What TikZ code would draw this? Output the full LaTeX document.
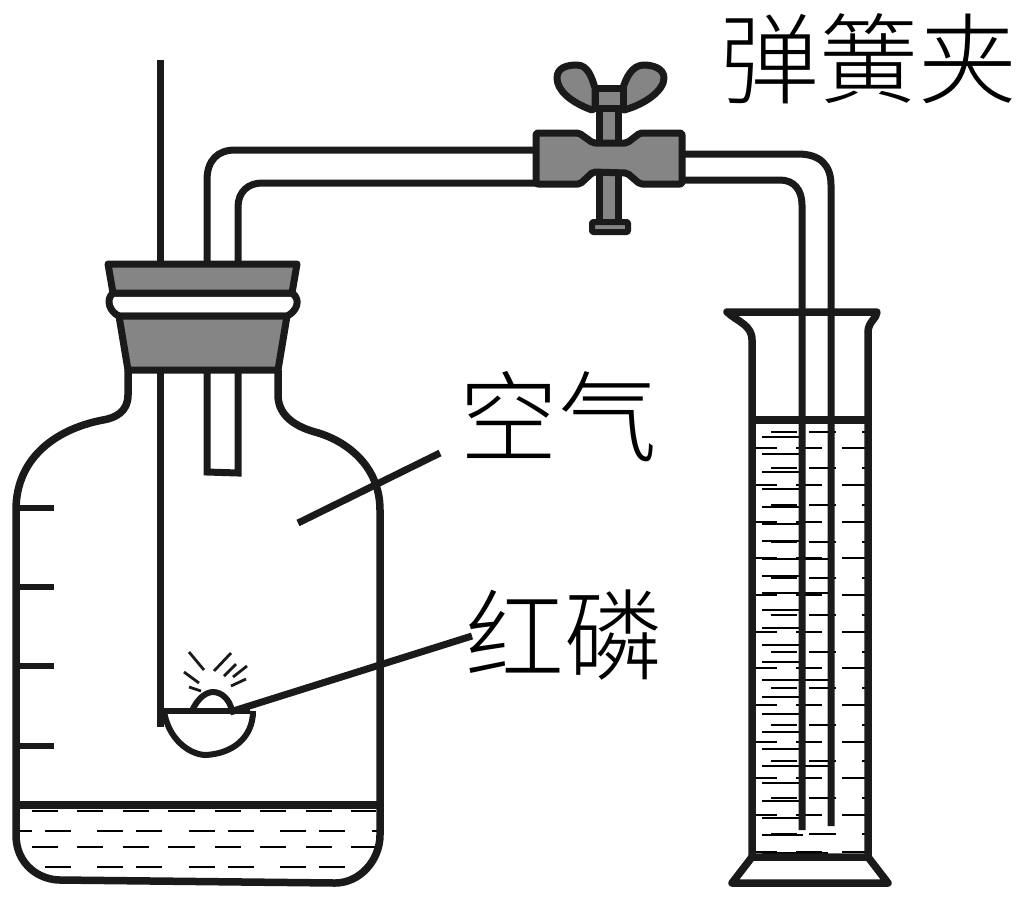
\documentclass[tikz,border=0pt]{standalone}
\usepackage{fontspec}
\newfontfamily\cjk{Noto Sans CJK SC Light}
\definecolor{ink}{HTML}{1A1A1A}
\definecolor{stop}{HTML}{858585}
\tikzset{
 wall/.style={draw=ink,line width=7.5pt,line join=round},
 tube/.style={draw=ink,line width=7pt},
 steel/.style={draw=ink,line width=7pt,fill=stop,line join=round},
 dashmark/.style={draw=black,line width=2.8pt},
 ray/.style={draw=ink,line width=2.8pt},
 leader/.style={draw=ink,line width=7pt},
 lbl/.style={font=\cjk\fontsize{99}{99}\selectfont,inner sep=0pt,text=black}
}
\begin{document}
\begin{tikzpicture}[x=1pt,y=-1pt]
\useasboundingbox (0,0) rectangle (1024,898);
\fill[white] (0,0) rectangle (1024,898);
% water marks, jar
\foreach \y in {811,847}{\foreach \a/\b in {32/58,77/103,123/149,168/195,215/241,260/286,306/332,351/376}{\draw[dashmark] (\a,\y) -- (\b,\y);}}
\foreach \a/\b in {19/32,45/71,97/123,136/162,189/215,228/254,280/306,319/345,372/377}{\draw[dashmark] (\a,831) -- (\b,831);}
\foreach \a/\b in {45/71,97/123,136/162,189/215,228/254,280/306,319/345}{\draw[dashmark] (\a,867) -- (\b,867);}
% water marks, cylinder
\foreach \y in {432,468,505,542,578,615,652,688,725,761,798,834}{\foreach \a/\b in {771/797,809/836,862/866}{\draw[dashmark] (\a,\y) -- (\b,\y);}}
\foreach \y in {448,485,522,558,595,632,668,705,742,778,815,852}{\foreach \a/\b in {755/777,796/822,842/866}{\draw[dashmark] (\a,\y) -- (\b,\y);}}
\foreach \y in {437,454,472,489,507,524,541,576,610,628,645,662,697,714,732,749,783,801,818,835}{\draw[dashmark] (762,\y) -- (803,\y);}
\foreach \y in {559,593,680,766,853}{\draw[dashmark] (762,\y) -- (828,\y);}
% jar
\draw[wall] (128,370) -- (128,395) .. controls (128,412) and (115,418) .. (103,420)
  .. controls (60,428) and (16,455) .. (16,510) -- (16,835)
  .. controls (16,865) and (40,880) .. (60,880) -- (335,883)
  .. controls (360,883) and (380,860) .. (380,835) -- (380,510)
  .. controls (380,465) and (345,440) .. (315,432)
  .. controls (290,425) and (278,412) .. (278,395) -- (278,370);
\draw[wall] (16,805) -- (380,805);
\foreach \y in {508,587,666,746}{\draw[draw=ink,line width=6pt] (16,\y) -- (54,\y);}
% rod and tubes
\draw[tube] (160,60) -- (160,727);
\draw[tube] (207,264) -- (207,180) .. controls (207,160) and (218,150) .. (235,150) -- (536,150);
\draw[tube] (238,264) -- (238,207) .. controls (238,192) and (248,183) .. (262,183) -- (536,183);
\draw[tube,line join=miter] (207,370) -- (207,472) -- (238,473) -- (238,370);
\draw[tube] (682,154) -- (798,154) .. controls (820,154) and (831,165) .. (831,185) -- (831,826);
\draw[tube] (682,180) -- (780,180) .. controls (794,180) and (802,190) .. (802,205) -- (802,830);
% stopper
\draw[draw=ink,line width=7pt,fill=white,line join=round] (113,293) .. controls (105,300) and (110,312) .. (119,316) -- (287,316) .. controls (296,312) and (302,300) .. (292,293) -- cycle;
\draw[steel] (108,264) -- (297,264) -- (292,293) -- (113,293) -- cycle;
\draw[steel] (119,316) -- (287,316) -- (278,370) -- (128,370) -- cycle;
% spoon
\draw[draw=ink,line width=6.5pt] (158,711) -- (250,711);
\draw[draw=ink,line width=6pt] (164,711) .. controls (168,738) and (188,754) .. (205,755) .. controls (232,754) and (253,738) .. (253,711);
\draw[draw=ink,line width=6pt] (192,711) .. controls (198,697) and (207,692) .. (213,692) .. controls (222,692) and (230,700) .. (232,711);
\draw[ray] (189,652) -- (204,670);
\draw[ray] (184,672) -- (199,683);
\draw[ray] (189,687) -- (201,691);
\draw[ray] (214,671) -- (231,653);
\draw[ray] (224,676) -- (236,664);
\draw[ray] (233,677) -- (247,666);
\draw[ray] (231,686) -- (246,679);
% cylinder
\draw[wall] (752,857) -- (752,340) .. controls (752,325) and (738,322) .. (727,312) -- (877,312) .. controls (877,318) and (868,322) .. (868,332) -- (868,857);
\draw[wall] (752,420) -- (868,420);
\draw[wall] (752,857) -- (868,857) -- (888,883) -- (732,883) -- cycle;
% screw clamp
\draw[steel] (599,108) rectangle (618,222);
\draw[steel,line width=6pt,rounded corners=1pt] (592,222) rectangle (628,232);
\draw[steel] (592,110) .. controls (570,102) and (557,90) .. (557,78) .. controls (557,68) and (566,65) .. (577,65) .. controls (588,65) and (592,78) .. (595,88) -- (595,108) -- cycle;
\draw[steel] (624,110) .. controls (646,104) and (664,90) .. (664,78) .. controls (664,68) and (652,65) .. (644,65) .. controls (632,65) and (626,78) .. (623,88) -- (623,108) -- cycle;
\draw[steel] (595,88) rectangle (623,108);
\draw[steel,rounded corners=2pt] (536,133) -- (579,133) -- (593,143) -- (627,143) -- (640,133) -- (682,133) -- (682,184) -- (640,184) -- (627,173) -- (593,172) -- (580,184) -- (536,184) -- cycle;
% labels and leaders
\node[lbl] (lclamp) at (869,59) {\cjk 弹簧夹};
\node[lbl] (lair) at (558,417) {\cjk 空气};
\node[lbl] (lphos) at (564,635) {\cjk 红磷};
\coordinate (airend) at (298,523);
\coordinate (airstart) at (440,453);
\coordinate (phosend) at (230,712);
\coordinate (phosstart) at (472,636);
\draw[leader] (airend) -- (airstart);
\draw[leader] (phosend) -- (phosstart);
\end{tikzpicture}
\end{document}
